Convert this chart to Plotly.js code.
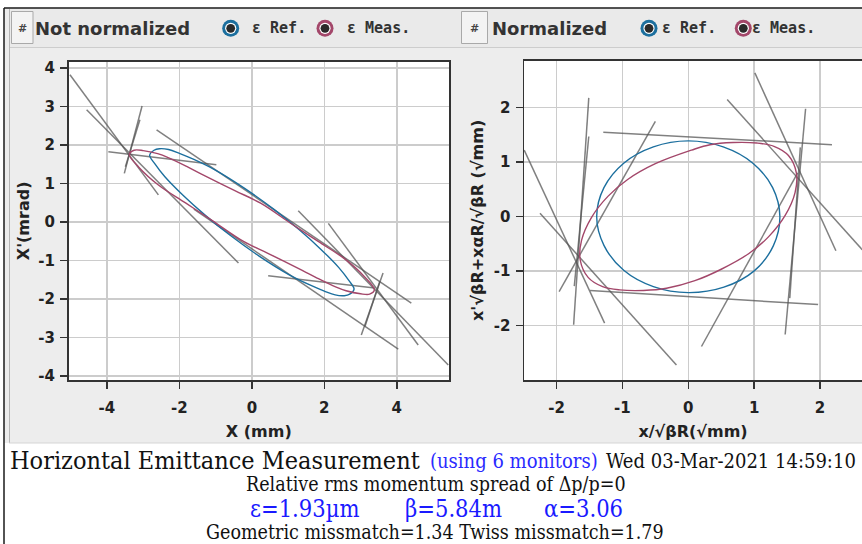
<!DOCTYPE html>
<html><head><meta charset="utf-8">
<script src="https://cdn.plot.ly/plotly-3.0.1.min.js"></script>
<style>html,body{margin:0;padding:0;background:#fff;}#chart{width:862px;height:544px;}</style>
</head><body><div id="chart"></div>
<script>
// ---------- data ----------
// Not-normalized phase space: monitor constraint lines (x in mm, x' in mrad)
const leftLinesX = [
  [-5.02, -2.58], [-4.56, -0.37], [-3.03, -3.52], [-3.09, -3.49], [-3.96, -0.98], [-2.63, 4.40],
  [2.11, 4.59], [1.28, 5.42], [3.62, 3.02], [3.53, 3.12], [0.45, 3.39], [-1.60, 4.04]
];
const leftLinesY = [
  [3.83, 0.71], [2.92, -1.06], [3.02, 1.27], [2.66, 1.44], [1.83, 1.49], [2.40, -2.10],
  [-0.03, -3.19], [0.30, -3.71], [-1.32, -2.93], [-1.54, -2.71], [-1.39, -1.71], [0.34, -3.30]
];
// Reference ellipse (blue)
const refEllipseX = [-0.20, 0.60, 1.30, 1.90, 2.40, 2.68, 2.82, 2.70, 2.55, 2.30, 2.00, 1.60, 1.02, 0.20,
  -0.60, -1.30, -1.90, -2.40, -2.68, -2.82, -2.70, -2.55, -2.30, -2.00, -1.60, -1.02, -0.20];
const refEllipseY = [0.88, 0.34, -0.19, -0.70, -1.18, -1.52, -1.74, -1.87, -1.91, -1.89, -1.79, -1.63, -1.36, -0.88,
  -0.34, 0.19, 0.70, 1.18, 1.52, 1.74, 1.87, 1.91, 1.89, 1.79, 1.63, 1.36, 0.88];
// Measured ellipse (red)
const measEllipseX = [-0.47, 0.23, 1.09, 1.83, 2.57, 3.12, 3.38, 3.25, 3.00, 2.60, 2.31, 1.80, 1.39, 0.47,
  -0.23, -1.09, -1.83, -2.57, -3.12, -3.38, -3.25, -3.00, -2.60, -2.31, -1.80, -1.39, -0.47];
const measEllipseY = [0.82, 0.50, -0.04, -0.50, -0.96, -1.43, -1.76, -1.87, -1.86, -1.78, -1.68, -1.45, -1.25, -0.82,
  -0.50, 0.04, 0.50, 0.96, 1.43, 1.76, 1.87, 1.86, 1.78, 1.68, 1.45, 1.25, 0.82];

// Normalized phase space
const normLinesX = [
  [-1.51, -1.74], [-1.51, -1.73], [-1.29, 2.18], [-1.49, 1.97], [-2.49, -1.27], [-2.25, -0.18], [-0.50, -1.96],
  [1.01, 2.24], [0.59, 2.64], [1.78, 1.47], [1.70, 1.54], [0.20, 1.66]
];
const normLinesY = [
  [2.18, -1.99], [1.47, -1.28], [1.55, 1.32], [-1.36, -1.62], [1.22, -1.96], [0.06, -2.73], [1.75, -1.38],
  [2.64, -0.63], [2.15, -0.61], [1.98, -2.17], [1.27, -1.50], [-2.39, 0.80]
];
const normRefX = [0.00, 0.53, 0.98, 1.28, 1.39, 1.29, 1.00, 0.54, 0.00, -0.53, -0.98, -1.28, -1.39, -1.28, -0.98, -0.53, 0.00];
const normRefY = [1.39, 1.28, 0.98, 0.53, 0.00, -0.54, -1.00, -1.30, -1.40, -1.29, -0.99, -0.53, 0.00, 0.53, 0.98, 1.28, 1.39];
const normMeasX = [0.05, 0.33, 0.68, 1.04, 1.30, 1.52, 1.64, 1.62, 1.47, 1.22, 0.92, 0.50, 0.10,
  -0.33, -0.68, -1.04, -1.30, -1.52, -1.64, -1.62, -1.47, -1.22, -0.92, -0.50, 0.05];
const normMeasY = [1.22, 1.32, 1.36, 1.35, 1.29, 1.12, 0.80, 0.44, 0.02, -0.37, -0.68, -0.97, -1.18,
  -1.32, -1.36, -1.35, -1.29, -1.12, -0.80, -0.44, -0.02, 0.37, 0.68, 0.97, 1.22];

// ticks
const leftXTicks = [-4, -2, 0, 2, 4];
const leftXTickText = ['-4', '-2', '0', '2', '4'];
const leftYTicks = [-4, -3, -2, -1, 0, 1, 2, 3, 4];
const leftYTickText = ['-4', '-3', '-2', '-1', '0', '1', '2', '3', '4'];
const normXTicks = [-2, -1, 0, 1, 2];
const normXTickText = ['-2', '-1', '0', '1', '2'];
const normYTicks = [-2, -1, 0, 1, 2];
const normYTickText = ['-2', '-1', '0', '1', '2'];

// texts
const titleLeft = 'Not normalized';
const titleRight = 'Normalized';
const legendRef = 'ε Ref.';
const legendMeas = 'ε Meas.';
const infoTitle = 'Horizontal Emittance Measurement';
const infoMonitors = '(using 6 monitors)';
const infoDate = 'Wed 03-Mar-2021 14:59:10';
const infoSpread = 'Relative rms momentum spread of Δp/p=0';
const infoEps = 'ε=1.93µm', infoBeta = 'β=5.84m', infoAlpha = 'α=3.06';
const infoMismatch = 'Geometric missmatch=1.34 Twiss missmatch=1.79';

// ---------- styling ----------
const W = 862, H = 544;
const PX = v => v / W, PY = v => 1 - v / H;
const BLUE = '#1c6f9e', RED = '#a3476a', GRAY = 'rgba(85,85,85,0.75)';

function segTrace(xs, ys, xa, ya) {
  const x = [], y = [];
  xs.forEach((s, i) => { x.push(s[0], s[1], null); y.push(ys[i][0], ys[i][1], null); });
  return {type: 'scatter', mode: 'lines', x, y, xaxis: xa, yaxis: ya, hoverinfo: 'skip',
    line: {color: GRAY, width: 1.5}, connectgaps: false};
}
function curve(x, y, color, xa, ya) {
  return {type: 'scatter', mode: 'lines', x, y, xaxis: xa, yaxis: ya, hoverinfo: 'skip',
    line: {color, width: 1.4, shape: 'spline', smoothing: 1}};
}
const data = [
  segTrace(leftLinesX, leftLinesY, 'x', 'y'),
  curve(refEllipseX, refEllipseY, BLUE, 'x', 'y'),
  curve(measEllipseX, measEllipseY, RED, 'x', 'y'),
  segTrace(normLinesX, normLinesY, 'x2', 'y2'),
  curve(normRefX, normRefY, BLUE, 'x2', 'y2'),
  curve(normMeasX, normMeasY, RED, 'x2', 'y2')
];

const tickFont = {family: 'DejaVu Sans', size: 15, weight: 700, color: '#222'};
const titleFont = {family: 'DejaVu Sans', size: 16, weight: 700, color: '#222'};
const axCommon = {
  showline: true, linecolor: '#333', linewidth: 1.5, ticks: 'outside', ticklen: 7, tickwidth: 1.5,
  tickcolor: '#333', showgrid: true, gridcolor: '#cccccc', gridwidth: 1.5, zeroline: false,
  tickfont: tickFont, automargin: false, fixedrange: true, tickmode: 'array'
};

const shapes = [];
const annotations = [];
function rect(x0, y0, x1, y1, fill, lineColor, lw) {
  shapes.push({type: 'rect', xref: 'paper', yref: 'paper', x0: PX(x0), x1: PX(x1), y0: PY(y1), y1: PY(y0),
    fillcolor: fill, line: {color: lineColor || fill, width: lw || 0}, layer: 'below'});
}
function hline(x0, x1, y, color, w) {
  shapes.push({type: 'line', xref: 'paper', yref: 'paper', x0: PX(x0), x1: PX(x1), y0: PY(y), y1: PY(y),
    line: {color, width: w}, layer: 'below'});
}
function vline(x, y0, y1, color, w) {
  shapes.push({type: 'line', xref: 'paper', yref: 'paper', x0: PX(x), x1: PX(x), y0: PY(y0), y1: PY(y1),
    line: {color, width: w}, layer: 'below'});
}
function circ(cx, cy, r, fill) {
  shapes.push({type: 'circle', xref: 'paper', yref: 'paper', x0: PX(cx - r), x1: PX(cx + r), y0: PY(cy + r), y1: PY(cy - r),
    fillcolor: fill, line: {width: 0}, layer: 'above'});
}
function icon(cx, cy, color) {
  circ(cx, cy, 8.5, color); circ(cx, cy, 5.6, '#ffffff'); circ(cx, cy, 4.4, '#2a2a2a');
}
function text(t, x, y, font, xanchor) {
  annotations.push({text: t, xref: 'paper', yref: 'paper', x: PX(x), y: PY(y), xanchor: xanchor || 'left',
    yanchor: 'middle', showarrow: false, font, borderpad: 0});
}

// window frame
rect(0, 0, W, 8, '#ffffff');
rect(0, 0, 4, H, '#ffffff');
rect(4, 443, W, H, '#ffffff');
rect(9, 9, W, 47, '#eaeaea');
hline(9, W, 47.5, '#cdcdcd', 1);
hline(4, W, 8, '#1a1a1a', 1.5);
vline(4, 8, H, '#1a1a1a', 1.5);
vline(9.5, 9, 443, '#b5b5b5', 1);
hline(9, W, 443, '#d5d5d5', 1);
// '#' buttons
rect(11.5, 11.5, 33, 43.5, '#f3f3f3', '#a9a9a9', 1);
rect(461.5, 11.5, 487.5, 43.5, '#f3f3f3', '#a9a9a9', 1);
const btnFont = {family: 'DejaVu Sans', size: 11, weight: 700, color: '#444'};
text('#', 22.3, 28, btnFont, 'center');
text('#', 474.5, 28, btnFont, 'center');
// headers
const hdrFont = {family: 'DejaVu Sans', size: 18, weight: 700, color: '#333'};
const legFont = {family: 'DejaVu Sans Mono', size: 15, weight: 700, color: '#333'};
text(titleLeft, 34, 28.5, hdrFont);
text(titleRight, 490.5, 28.5, hdrFont);
icon(230.7, 28.3, BLUE); text(legendRef, 250.5, 28.5, legFont);
icon(325, 28.3, RED); text(legendMeas, 345.5, 28.5, legFont);
icon(649, 28.3, BLUE); text(legendRef, 660.5, 28.5, legFont);
icon(743.3, 28.3, RED); text(legendMeas, 750.5, 28.5, legFont);

// info block
const serif = 'DejaVu Serif Condensed, DejaVu Serif, serif';
text(infoTitle, 9, 460, {family: serif, size: 25, color: '#111'});
text(infoMonitors, 429, 461, {family: serif, size: 20, color: '#2a2aff'});
text(infoDate, 605, 461, {family: serif, size: 20, color: '#111'});
text(infoSpread, 436, 484.5, {family: serif, size: 19.5, color: '#111'}, 'center');
const blueBig = {family: serif, size: 23.5, color: '#1a1aff'};
text(infoEps, 305, 508.5, blueBig, 'center');
text(infoBeta, 453, 508.5, blueBig, 'center');
text(infoAlpha, 583, 508.5, blueBig, 'center');
text(infoMismatch, 435, 532.5, {family: serif, size: 19.5, color: '#111'}, 'center');

const layout = {
  width: W, height: H, margin: {l: 0, r: 0, t: 0, b: 0},
  paper_bgcolor: '#ededed', plot_bgcolor: '#ffffff', showlegend: false,
  xaxis: Object.assign({}, axCommon, {domain: [PX(68.5), PX(449)], range: [-5.06, 5.44], anchor: 'y', mirror: true,
    tickvals: leftXTicks, ticktext: leftXTickText, ticklabelstandoff: 6,
    title: {text: 'X (mm)', font: titleFont, standoff: 10}}),
  yaxis: Object.assign({}, axCommon, {domain: [PY(380), PY(61.7)], range: [-4.10, 4.17], anchor: 'x', mirror: true,
    tickvals: leftYTicks, ticktext: leftYTickText, ticklabelstandoff: 2,
    title: {text: "X'(mrad)", font: titleFont, standoff: 4}}),
  xaxis2: Object.assign({}, axCommon, {domain: [PX(524), 1], range: [-2.493, 2.636], anchor: 'y2', mirror: true,
    tickvals: normXTicks, ticktext: normXTickText, ticklabelstandoff: 6,
    title: {text: 'x/√βR(√mm)', font: titleFont, standoff: 10}}),
  yaxis2: Object.assign({}, axCommon, {domain: [PY(380), PY(60.7)], range: [-3.006, 2.864], anchor: 'x2', mirror: false,
    tickvals: normYTicks, ticktext: normYTickText, ticklabelstandoff: 2,
    title: {text: "x'√βR+xαR/√βR (√mm)", font: titleFont, standoff: 6}}),
  shapes, annotations
};
Plotly.newPlot('chart', data, layout, {staticPlot: true, displayModeBar: false});
</script></body></html>
